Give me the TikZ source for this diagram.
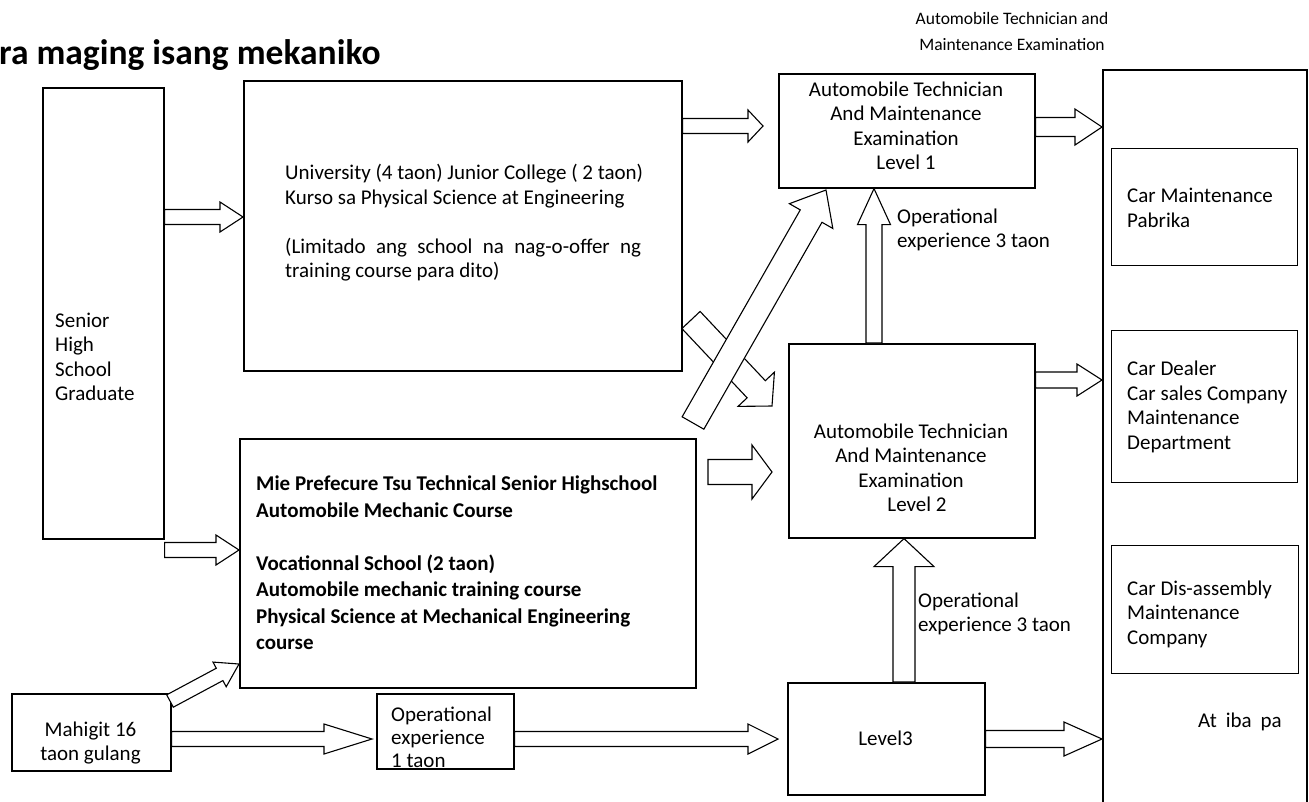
\documentclass[tikz,border=0pt]{standalone}
\usepackage{fontspec}
\setmainfont{Carlito}
\usetikzlibrary{calc}
\tikzset{
  box/.style={draw=black, line width=1.6pt, fill=none, inner sep=0pt, anchor=north west},
  arr/.style={draw=black, line width=1.1pt, fill=white, line join=miter},
  txt/.style={inner sep=0pt, align=left, font=\fontsize{21}{24.5}\selectfont},
  ctxt/.style={inner sep=0pt, align=center, font=\fontsize{21}{24.5}\selectfont},
  btxt/.style={inner sep=0pt, align=left, font=\fontsize{21}{26.5}\selectfont\bfseries},
}
\newcommand\barrow[5]{%
 \draw[arr] let \p1=(#1), \p2=(#2),
  \n1={atan2(\y2-\y1,\x2-\x1)}, \n2={veclen(\x2-\x1,\y2-\y1)},
  \n3={cos(\n1)}, \n4={sin(\n1)}, \n5={\n2-#5} in
  ({\x1-(#3)*\n4*1pt},{\y1+(#3)*\n3*1pt})
  -- ({\x1+\n5*\n3*1pt-(#3)*\n4*1pt},{\y1+\n5*\n4*1pt+(#3)*\n3*1pt})
  -- ({\x1+\n5*\n3*1pt-(#4)*\n4*1pt},{\y1+\n5*\n4*1pt+(#4)*\n3*1pt})
  -- (\p2)
  -- ({\x1+\n5*\n3*1pt+(#4)*\n4*1pt},{\y1+\n5*\n4*1pt-(#4)*\n3*1pt})
  -- ({\x1+\n5*\n3*1pt+(#3)*\n4*1pt},{\y1+\n5*\n4*1pt-(#3)*\n3*1pt})
  -- ({\x1+(#3)*\n4*1pt},{\y1-(#3)*\n3*1pt}) -- cycle;}
\begin{document}
\begin{tikzpicture}[x=1pt, y=-1pt]
\useasboundingbox (0,0) rectangle (1309,801);
% title
\node[inner sep=0pt, anchor=base west, font=\fontsize{35.5}{42}\selectfont\bfseries] (title) at (-1,64) {ra maging isang mekaniko};
\node[ctxt, font=\fontsize{17.5}{26}\selectfont] (toplab) at (1012,31) {Automobile Technician and\\Maintenance Examination};
% boxes
\node[box, minimum width=121pt, minimum height=451pt] (sen) at (42,87) {};
\node[box, minimum width=438pt, minimum height=290pt] (uni) at (243,80) {};
\node[box, minimum width=256pt, minimum height=114pt] (l1) at (778,73) {};
\node[box, minimum width=246pt, minimum height=194pt] (l2) at (788,343) {};
\node[box, minimum width=456pt, minimum height=249pt] (mie) at (239,438) {};
\node[box, minimum width=159pt, minimum height=77pt] (mah) at (11,693) {};
\node[box, minimum width=137pt, minimum height=75pt] (op1) at (376,693) {};
\node[box, minimum width=197pt, minimum height=112pt] (l3) at (787,682) {};
\node[box, minimum width=204pt, minimum height=780pt] (big) at (1102,69) {};
\node[box, line width=1.3pt, minimum width=186pt, minimum height=117pt] (cm) at (1111,148) {};
\node[box, line width=1.3pt, minimum width=186pt, minimum height=152pt] (cd) at (1111,330) {};
\node[box, line width=1.3pt, minimum width=187pt, minimum height=128pt] (cda) at (1111,545) {};
% texts
\node[txt, anchor=west] (sent) at (55,357) {Senior\\High\\School\\Graduate};
\node[txt, anchor=west] (unit) at (285,223) {University (4 taon) Junior College ( 2 taon)\\Kurso sa Physical Science at Engineering\\[24.5pt]\makebox[356pt][s]{(Limitado ang school na nag-o-offer ng}\\training course para dito)};
\node[ctxt] (l1t) at (906,126) {Automobile Technician\\And Maintenance\\Examination\\Level 1};
\node[ctxt] (l2t) at (911,468) {Automobile Technician\\And Maintenance\\Examination\\\hspace*{12pt}Level 2};
\node[btxt, anchor=west] (miet) at (256,563) {Mie Prefecure Tsu Technical Senior Highschool\\Automobile Mechanic Course\\[26.5pt]Vocationnal School (2 taon)\\Automobile mechanic training course\\Physical Science at Mechanical Engineering\\course};
\node[ctxt] (maht) at (90.5,743) {Mahigit 16\\taon gulang};
\node[txt, anchor=west, font=\fontsize{21}{23}\selectfont] (op1t) at (391,737) {Operational\\experience\\1 taon};
\node[ctxt] (l3t) at (885.5,738) {Level3};
\node[txt, anchor=west] (o3a) at (897,230) {Operational\\experience 3 taon};
\node[txt, anchor=west] (o3b) at (918,614) {Operational\\experience 3 taon};
\node[txt, anchor=west] (cmt) at (1127,208) {Car Maintenance\\Pabrika};
\node[txt, anchor=west] (cdt) at (1127,407) {Car Dealer\\Car sales Company\\Maintenance\\Department};
\node[txt, anchor=west] (cdat) at (1127,614) {Car Dis-assembly\\Maintenance\\Company};
\node[ctxt] (etc) at (1240,722) {At\hspace{9pt}iba\hspace{9pt}pa};
% block arrows
\barrow{sen.east |- 0,217}{uni.west |- 0,217}{7.5}{15}{23}
\barrow{sen.east |- 0,550}{mie.west |- 0,550}{7.5}{15}{23}
\barrow{uni.east |- 0,126}{763,126}{7.5}{16}{15}
\barrow{l1.east |- 0,127}{big.west |- 0,127}{9.5}{18}{27}
\barrow{691,320}{772,406}{12.5}{25}{23}
\barrow{693,423}{826,190}{12.5}{25}{30}
\barrow{708,472}{772,472}{12.5}{27}{20}
\barrow{170,701}{239,664}{7}{14}{22}
\barrow{mah.east |- 0,739}{372,739}{7.5}{15}{48}
\barrow{op1.east |- 0,739}{778,739}{7.5}{15}{30}
\barrow{l3.north -| 904,0}{l2.south -| 904,0}{11}{30}{28}
\barrow{l2.north -| 874,0}{l1.south -| 874,0}{8}{16.5}{36}
\barrow{l2.east |- 0,380}{big.west |- 0,380}{8}{16}{25}
\barrow{l3.east |- 0,739}{big.west |- 0,739}{8.5}{17}{38}
\end{tikzpicture}
\end{document}
